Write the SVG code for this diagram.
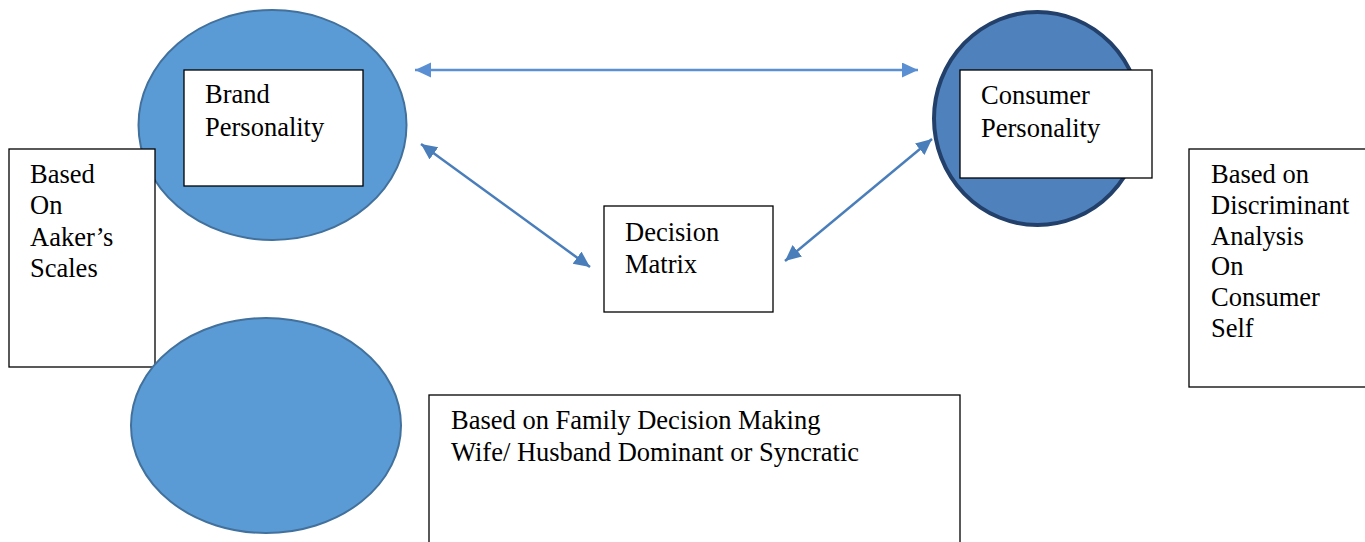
<svg xmlns="http://www.w3.org/2000/svg" width="1365" height="542" viewBox="0 0 1365 542">
<style>
  .box { fill: #ffffff; stroke: #000000; stroke-width: 1.3; }
  .t { font-family: "Liberation Serif", "Times New Roman", serif; font-size: 26.5px; fill: #000000; }
  .ell { fill: #5B9BD5; stroke: #41719C; stroke-width: 2; }
  .conn { fill: none; stroke: #4A7EBB; stroke-width: 2.5; marker-start: url(#ah); marker-end: url(#ah); }
  .conn2 { fill: none; stroke: #5B8FD3; stroke-width: 2.5; marker-start: url(#ah2); marker-end: url(#ah2); }
</style>
<defs>
  <marker id="ah" markerUnits="userSpaceOnUse" markerWidth="18" markerHeight="16" refX="16" refY="7.5" orient="auto-start-reverse">
    <path d="M0,0 L16,7.5 L0,15 z" fill="#4A7EBB"/>
  </marker>
  <marker id="ah2" markerUnits="userSpaceOnUse" markerWidth="18" markerHeight="16" refX="16" refY="7.5" orient="auto-start-reverse">
    <path d="M0,0 L16,7.5 L0,15 z" fill="#5B8FD3"/>
  </marker>
</defs>
<rect width="1365" height="542" fill="#ffffff"/>

<g id="brand">
  <ellipse class="ell" cx="272.5" cy="125" rx="134" ry="115"/>
  <rect class="box" x="184" y="70" width="179" height="116"/>
  <text class="t" x="205" y="103">Brand</text>
  <text class="t" x="205" y="136">Personality</text>
</g>

<g id="consumer">
  <ellipse cx="1037.5" cy="118.5" rx="103.5" ry="106.5" fill="#4F81BD" stroke="#22406A" stroke-width="4"/>
  <rect class="box" x="960" y="70" width="192" height="108"/>
  <text class="t" x="981" y="104">Consumer</text>
  <text class="t" x="981" y="137">Personality</text>
</g>

<g id="aaker">
  <rect class="box" x="9" y="149" width="146" height="218"/>
  <text class="t" x="30" y="183">Based</text>
  <text class="t" x="30" y="214">On</text>
  <text class="t" x="30" y="246">Aaker’s</text>
  <text class="t" x="30" y="277">Scales</text>
</g>

<g id="discriminant">
  <rect class="box" x="1189" y="149" width="185" height="238"/>
  <text class="t" x="1211" y="183">Based on</text>
  <text class="t" x="1211" y="214">Discriminant</text>
  <text class="t" x="1211" y="245">Analysis</text>
  <text class="t" x="1211" y="275">On</text>
  <text class="t" x="1211" y="306">Consumer</text>
  <text class="t" x="1211" y="337">Self</text>
</g>

<g id="decision">
  <rect class="box" x="604" y="206" width="169" height="106"/>
  <text class="t" x="625" y="241">Decision</text>
  <text class="t" x="625" y="273">Matrix</text>
</g>

<g id="family-ellipse">
  <ellipse class="ell" cx="266" cy="425.5" rx="135" ry="107.5"/>
</g>

<g id="family">
  <rect class="box" x="429" y="395" width="531" height="160"/>
  <text class="t" x="451" y="429">Based on Family Decision Making</text>
  <text class="t" x="451" y="461">Wife/ Husband Dominant or Syncratic</text>
</g>

<g id="connectors">
  <line class="conn2" x1="415" y1="70" x2="918" y2="70"/>
  <line class="conn" x1="421" y1="144" x2="590" y2="267"/>
  <line class="conn" x1="785" y1="261" x2="932" y2="139"/>
</g>
</svg>
